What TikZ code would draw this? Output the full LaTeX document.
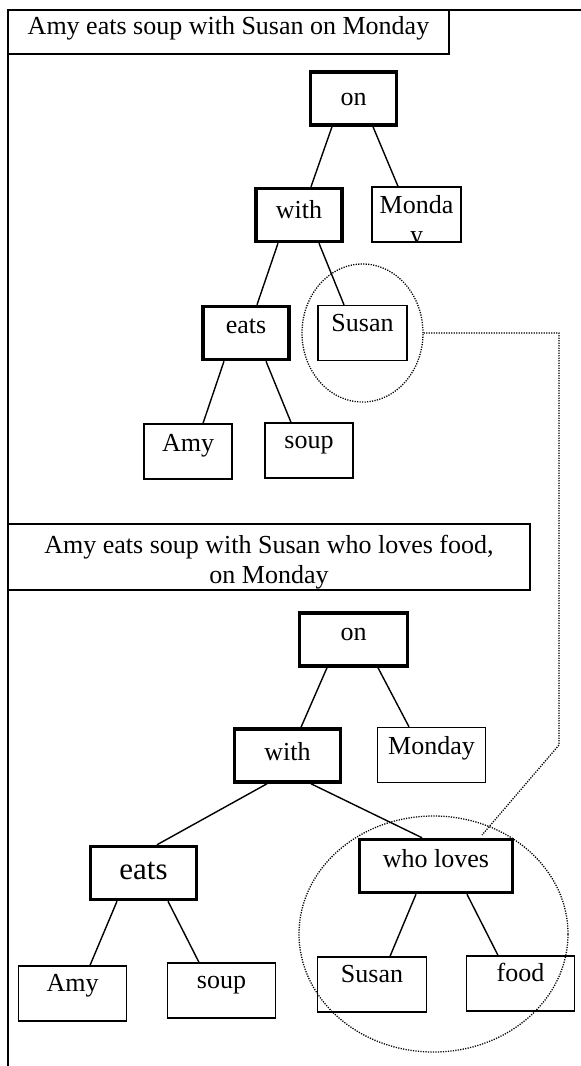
\documentclass[tikz,border=0pt]{standalone}
\usepackage{fontspec}
\setmainfont{Liberation Serif}
\usetikzlibrary{shapes.geometric}
\begin{document}
\begin{tikzpicture}[x=1pt, y=-1pt,
  every node/.style={font=\fontsize{26}{30}\selectfont, inner sep=0pt},
  leaf/.style={draw, line width=1.3pt, text height=18pt, text depth=22pt,
    minimum width=88pt, minimum height=55pt},
  head/.style={leaf, line width=3.5pt, minimum width=86pt, minimum height=53pt},
  caption/.style={draw, line width=1.3pt, align=center},
  edge/.style={line width=1.4pt},
  ring/.style={draw, ellipse, line width=1.3pt, dash pattern=on 1.2pt off 1.3pt},
  link/.style={line width=1.3pt, dash pattern=on 1.2pt off 1.3pt}]
\useasboundingbox (0,0) rectangle (581,1066);

% page frame
\draw[line width=1.6pt] (8,1066) -- (8,10) -- (581,10);

% ---- first sentence ----
\node[caption, minimum width=441pt, minimum height=44pt,
      text height=18pt, text depth=13pt] (cap1) at (228.5,32)
  {Amy eats soup with Susan on Monday};

\node[head, text depth=4pt] (on1) at (353.5,98.5) {on};
\node[head, text depth=11pt] (with1) at (299,215) {with};
\node[leaf, minimum width=89pt, path picture={
    \node[anchor=base, yshift=0.8pt] at (path picture bounding box.center) {Monda};
    \node[anchor=base, yshift=-29pt] at (path picture bounding box.center) {y};
  }] (mon1) at (416.5,214.5) {};
\node[head, text depth=18pt] (eats1) at (246,333) {eats};
\node[leaf, minimum width=89pt, text depth=22pt] (susan1) at (362.5,333) {Susan};
\node[leaf, text depth=18pt] (amy1) at (188,451.5) {Amy};
\node[leaf, text depth=22pt] (soup1) at (309,450.5) {soup};

\draw[edge] ([xshift=-21.5pt]on1.south) -- ([xshift=12pt]with1.north);
\draw[edge] ([xshift=19.5pt]on1.south) -- ([xshift=-18.5pt]mon1.north);
\draw[edge] ([xshift=-21pt]with1.south) -- ([xshift=11pt]eats1.north);
\draw[edge] ([xshift=20pt]with1.south) -- ([xshift=-18.5pt]susan1.north);
\draw[edge] ([xshift=-22pt]eats1.south) -- ([xshift=15pt]amy1.north);
\draw[edge] ([xshift=20pt]eats1.south) -- ([xshift=-18pt]soup1.north);

\node[ring, minimum width=121pt, minimum height=138pt] (ring1) at (362.5,333) {};

% ---- second sentence ----
\node[caption, minimum width=522pt, minimum height=66pt] (cap2) at (269,557)
  {\rule{0pt}{29pt}Amy eats soup with Susan who loves food,\\on Monday};

\node[head, minimum width=108pt, text depth=17pt] (on2) at (353.5,639.5) {on};
\node[head, minimum width=106pt, text depth=9pt] (with2) at (287.5,755.5) {with};
\node[leaf, minimum width=108pt, text depth=20pt] (mon2) at (431.5,755) {Monday};
\node[head, minimum width=106pt, text height=22pt, text depth=10pt,
      font=\fontsize{31}{36}\selectfont] (eats2) at (143.5,873) {eats};
\node[head, minimum width=153pt, text depth=16pt] (who2) at (436,866) {who loves};
\node[leaf, minimum width=108pt, text depth=22pt] (amy2) at (72.5,993.5) {Amy};
\node[leaf, minimum width=108pt, text depth=22pt] (soup2) at (221.5,990.5) {soup};
\node[leaf, minimum width=109pt, text depth=22pt] (susan2) at (372,984.5) {Susan};
\node[leaf, minimum width=108pt, text depth=22pt] (food2) at (520.5,983.5) {food};

\draw[edge] ([xshift=-26.5pt]on2.south) -- ([xshift=13.5pt]with2.north);
\draw[edge] ([xshift=24.5pt]on2.south) -- ([xshift=-22.5pt]mon2.north);
\draw[edge] ([xshift=-20.5pt]with2.south) -- ([xshift=13.5pt]eats2.north);
\draw[edge] ([xshift=23.5pt]with2.south) -- ([xshift=-14pt]who2.north);
\draw[edge] ([xshift=-26.5pt]eats2.south) -- ([xshift=17.5pt]amy2.north);
\draw[edge] ([xshift=24.5pt]eats2.south) -- ([xshift=-22.5pt]soup2.north);
\draw[edge] ([xshift=-20pt]who2.south) -- ([xshift=18pt]susan2.north);
\draw[edge] ([xshift=31pt]who2.south) -- ([xshift=-22.5pt]food2.north);

\node[ring, minimum width=269pt, minimum height=236pt] (ring2) at (433.5,934) {};

% dotted link from the first Susan to the relative clause
\coordinate (bend) at (559,745);
\coordinate (tip) at (482,835);
\draw[link] (ring1.east) -- (ring1.east -| bend) -- (bend) -- (tip);
\end{tikzpicture}
\end{document}
